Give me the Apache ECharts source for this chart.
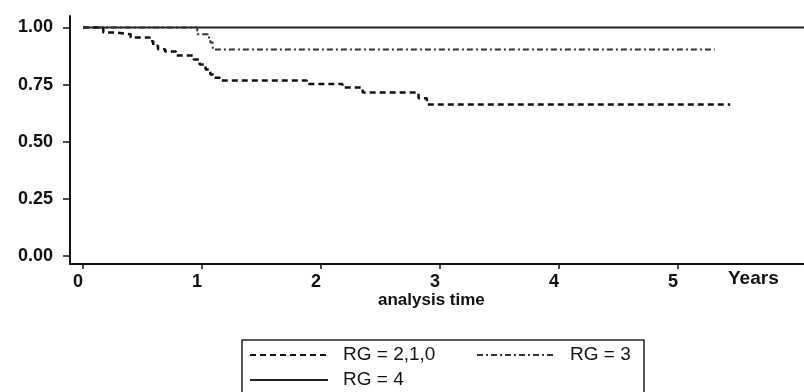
<!DOCTYPE html>
<html>
<head>
<meta charset="utf-8">
<script src="https://cdn.jsdelivr.net/npm/echarts@6/dist/echarts.min.js"></script>
<style>
html,body{margin:0;padding:0;background:#fff;}
#chart{width:804px;height:392px;}
</style>
</head>
<body>
<div id="chart"></div>
<script>
// Kaplan-Meier step data: [time (years), survival after the step]
var rg210 = [
  [0, 1.0], [0.17, 0.978], [0.27, 0.97], [0.4, 0.956], [0.56, 0.94],
  [0.59, 0.92], [0.63, 0.905], [0.69, 0.895], [0.78, 0.877], [0.93, 0.86],
  [0.98, 0.838], [1.03, 0.816], [1.07, 0.794], [1.1, 0.78], [1.16, 0.768],
  [1.88, 0.753], [2.18, 0.737], [2.35, 0.715], [2.82, 0.69], [2.89, 0.663],
  [5.44, 0.663]
];
var rg3 = [
  [0, 1.0], [0.96, 0.97], [1.05, 0.956], [1.07, 0.934], [1.09, 0.903],
  [5.31, 0.903]
];
var rg4 = [
  [0, 1.0], [6.06, 1.0]
];
var seriesNames = ['RG = 2,1,0', 'RG = 3', 'RG = 4'];
var xTicks = [0, 1, 2, 3, 4, 5];
var yTicks = [0, 0.25, 0.5, 0.75, 1.0];

var chart = echarts.init(document.getElementById('chart'), null, {renderer: 'canvas'});
var FONT = '"Liberation Sans", Arial, sans-serif';
chart.setOption({
  animation: false,
  backgroundColor: '#fff',
  grid: {left: 70, right: 0, top: 16, bottom: 128, containLabel: false},
  xAxis: {
    type: 'value', min: -0.11, max: 6.06,
    splitLine: {show: false},
    axisLine: {show: true, onZero: false, lineStyle: {color: '#111', width: 2}},
    axisTick: {show: true, customValues: xTicks, length: 5, lineStyle: {color: '#111', width: 1.5}},
    axisLabel: {customValues: xTicks, margin: 9, padding: [0, 10, 0, 0],
      color: '#111', fontFamily: FONT, fontWeight: 'bold', fontSize: 18}
  },
  yAxis: {
    type: 'value', min: -0.035, max: 1.05,
    splitLine: {show: false},
    axisLine: {show: true, onZero: false, lineStyle: {color: '#111', width: 2}},
    axisTick: {show: true, customValues: yTicks, length: 7, lineStyle: {color: '#111', width: 1.5}},
    axisLabel: {customValues: yTicks, margin: 17, color: '#111', fontFamily: FONT,
      fontWeight: 'bold', fontSize: 18, formatter: function (v) { return v.toFixed(2); }}
  },
  legend: {
    left: 242, top: 340, width: 395,
    orient: 'horizontal',
    padding: [5, 8, 5, 7],
    borderColor: '#222', borderWidth: 1.5,
    itemWidth: 78, itemHeight: 14, itemGap: 5,
    itemStyle: {opacity: 0},
    data: [
      {name: seriesNames[0], textStyle: {width: 128}},
      {name: seriesNames[1], textStyle: {width: 66}},
      {name: seriesNames[2], textStyle: {width: 66}}
    ],
    textStyle: {color: '#111', fontFamily: FONT, fontSize: 19, lineHeight: 20, padding: [0, 0, 0, 10]}
  },
  graphic: [
    {type: 'text', left: 728, top: 269, style: {text: 'Years', fill: '#111', font: 'bold 19px ' + FONT}},
    {type: 'text', left: 378, top: 292, style: {text: 'analysis time', fill: '#111', font: 'bold 17px ' + FONT}}
  ],
  series: [
    {name: seriesNames[0], type: 'line', step: 'end', data: rg210, symbol: 'none',
      lineStyle: {color: '#111', width: 2.5, type: [6, 4]}, itemStyle: {color: '#111'}},
    {name: seriesNames[1], type: 'line', step: 'end', data: rg3, symbol: 'none',
      lineStyle: {color: '#333', width: 2, type: [6, 3, 2, 3]}, itemStyle: {color: '#333'}},
    {name: seriesNames[2], type: 'line', step: 'end', data: rg4, symbol: 'none', z: 1,
      lineStyle: {color: '#222', width: 2, type: 'solid'}, itemStyle: {color: '#222'}}
  ]
});
</script>
</body>
</html>
